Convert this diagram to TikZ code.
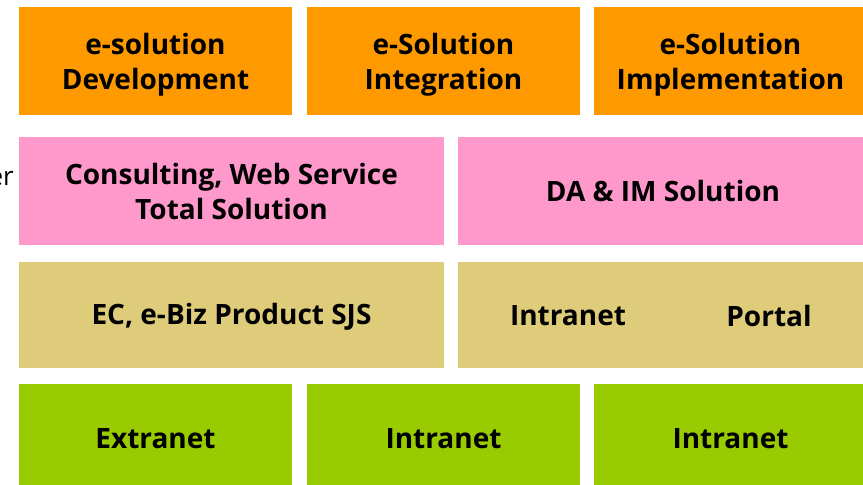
\documentclass[tikz,border=0pt]{standalone}
\usepackage{fontspec}
\setmainfont{Open Sans}
\usepackage{xcolor}
\usetikzlibrary{positioning,calc}

\definecolor{solorange}{HTML}{FF9900}
\definecolor{solpink}{HTML}{FF99CC}
\definecolor{soltan}{HTML}{DFCC7A}
\definecolor{solgreen}{HTML}{99CC00}

\tikzset{
    tile/.style={minimum height=108pt, inner sep=0pt},
    narrow/.style={tile, minimum width=273pt},
    wide/.style={tile, minimum width=425pt},
    tiletext/.style={inner sep=0pt, align=center, yshift=-4pt,
        font=\fontsize{28}{35}\selectfont\bfseries}
}

\begin{document}
\begin{tikzpicture}[x=1pt, y=-1pt]
    \useasboundingbox (0,0) rectangle (863,485);
    \clip (0,0) rectangle (863,485);

    % Top row
    \node [narrow, fill=solorange] (dev) at (155.5,61) {};
    \node [narrow, fill=solorange] (int) at (443.5,61) {};
    \node [narrow, fill=solorange] (imp) at (730.5,61) {};
    \node [tiletext] at (dev) {e-solution\\Development};
    \node [tiletext] at (int) {e-Solution\\Integration};
    \node [tiletext] at (imp) {e-Solution\\Implementation};

    % Second row
    \node [wide, fill=solpink] (cons) at (231.5,191) {};
    \node [wide, fill=solpink, minimum width=410pt] (daim) at (663,191) {};
    \node [tiletext, yshift=4pt] at (cons) {Consulting, Web Service\\Total Solution};
    \node [tiletext, yshift=4pt] at (daim) {DA \& IM Solution};
    \node [anchor=base east, inner sep=0pt, font=\fontsize{26}{30}\selectfont] (cut) at (14,185) {er};

    % Third row
    \node [wide, fill=soltan, minimum height=106pt] (ec) at (231.5,315) {};
    \node [wide, fill=soltan, minimum height=106pt, minimum width=410pt] (intra) at (663,315) {};
    \node [tiletext, yshift=2pt] at (ec) {EC, e-Biz Product SJS};
    \node [tiletext, yshift=3pt] at ($(intra)+(-95,0)$) {Intranet};
    \node [tiletext, yshift=3pt] at ($(intra)+(106,0)$) {Portal};

    % Bottom row
    \foreach \x/\name/\label in {155.5/ext/Extranet, 443.5/intb/Intranet, 730.5/intc/Intranet} {
        \node [narrow, fill=solgreen, minimum height=104pt] (\name) at (\x,436) {};
        \node [tiletext, yshift=1pt] at (\name) {\label};
    }
\end{tikzpicture}
\end{document}
